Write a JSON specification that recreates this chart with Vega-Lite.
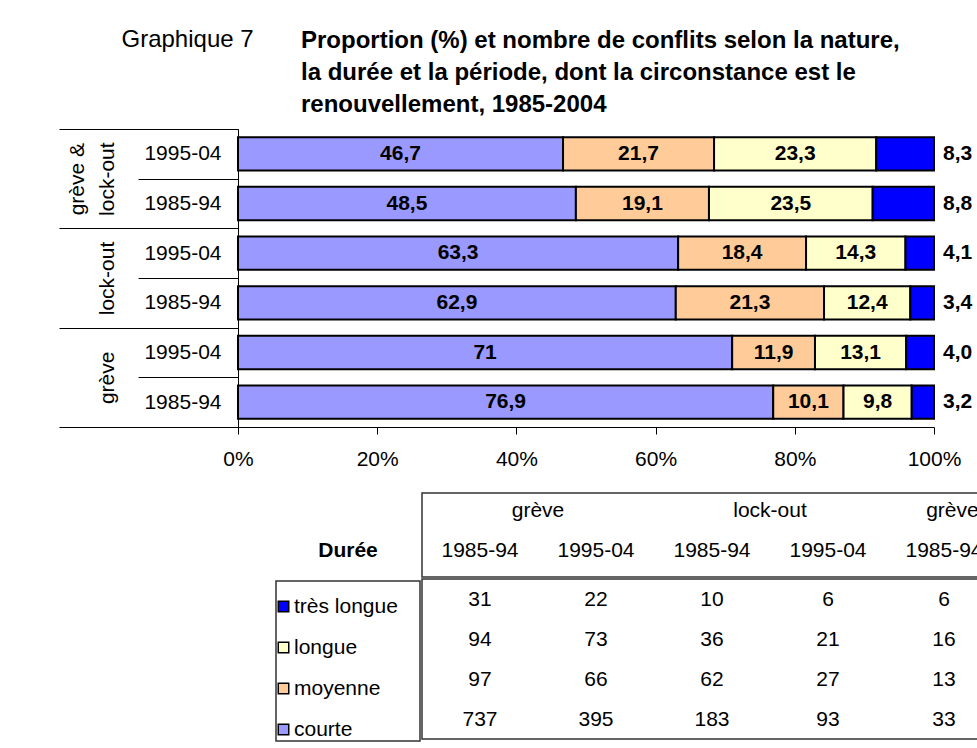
{
  "$schema": "https://vega.github.io/schema/vega-lite/v6.json",
  "padding": {"left": 58, "top": 27, "right": 2, "bottom": 0},
  "datasets": {
    "conflits": [
      {"nature": "grève", "periode": "1985-94", "duree": "courte", "pct": 76.9, "n": 737},
      {"nature": "grève", "periode": "1985-94", "duree": "moyenne", "pct": 10.1, "n": 97},
      {"nature": "grève", "periode": "1985-94", "duree": "longue", "pct": 9.8, "n": 94},
      {"nature": "grève", "periode": "1985-94", "duree": "très longue", "pct": 3.2, "n": 31},
      {"nature": "grève", "periode": "1995-04", "duree": "courte", "pct": 71, "n": 395},
      {"nature": "grève", "periode": "1995-04", "duree": "moyenne", "pct": 11.9, "n": 66},
      {"nature": "grève", "periode": "1995-04", "duree": "longue", "pct": 13.1, "n": 73},
      {"nature": "grève", "periode": "1995-04", "duree": "très longue", "pct": 4.0, "n": 22},
      {"nature": "lock-out", "periode": "1985-94", "duree": "courte", "pct": 62.9, "n": 183},
      {"nature": "lock-out", "periode": "1985-94", "duree": "moyenne", "pct": 21.3, "n": 62},
      {"nature": "lock-out", "periode": "1985-94", "duree": "longue", "pct": 12.4, "n": 36},
      {"nature": "lock-out", "periode": "1985-94", "duree": "très longue", "pct": 3.4, "n": 10},
      {"nature": "lock-out", "periode": "1995-04", "duree": "courte", "pct": 63.3, "n": 93},
      {"nature": "lock-out", "periode": "1995-04", "duree": "moyenne", "pct": 18.4, "n": 27},
      {"nature": "lock-out", "periode": "1995-04", "duree": "longue", "pct": 14.3, "n": 21},
      {"nature": "lock-out", "periode": "1995-04", "duree": "très longue", "pct": 4.1, "n": 6},
      {"nature": "grève & lock-out", "periode": "1985-94", "duree": "courte", "pct": 48.5, "n": 33},
      {"nature": "grève & lock-out", "periode": "1985-94", "duree": "moyenne", "pct": 19.1, "n": 13},
      {"nature": "grève & lock-out", "periode": "1985-94", "duree": "longue", "pct": 23.5, "n": 16},
      {"nature": "grève & lock-out", "periode": "1985-94", "duree": "très longue", "pct": 8.8, "n": 6},
      {"nature": "grève & lock-out", "periode": "1995-04", "duree": "courte", "pct": 46.7, "n": 28},
      {"nature": "grève & lock-out", "periode": "1995-04", "duree": "moyenne", "pct": 21.7, "n": 13},
      {"nature": "grève & lock-out", "periode": "1995-04", "duree": "longue", "pct": 23.3, "n": 14},
      {"nature": "grève & lock-out", "periode": "1995-04", "duree": "très longue", "pct": 8.3, "n": 5}
    ]
  },
  "spacing": 23,
  "resolve": {"scale": {"color": "independent"}, "legend": {"color": "independent"}},
  "vconcat": [
    {
      "width": 696,
      "height": 298,
      "data": {"name": "conflits"},
      "title": {
        "text": ["Proportion (%) et nombre de conflits selon la nature,", "la  durée et la période, dont la circonstance est le", "renouvellement, 1985-2004"],
        "anchor": "start", "frame": "group", "dx": 63, "fontSize": 24, "fontWeight": "bold", "lineHeight": 32, "offset": -90, "color": "black"
      },
      "transform": [
        {"calculate": "datum.nature + ' ' + datum.periode", "as": "key"},
        {"calculate": "indexof(['courte', 'moyenne', 'longue', 'très longue'], datum.duree)", "as": "rang"},
        {"stack": "pct", "groupby": ["key"], "sort": [{"field": "rang", "order": "ascending"}], "offset": "normalize", "as": ["x0", "x1"]},
        {"calculate": "(datum.x0 + datum.x1) / 2", "as": "mid"}
      ],
      "resolve": {"axis": {"y": "independent"}},
      "layer": [
        {
          "mark": {"type": "bar", "stroke": "black", "strokeWidth": 2},
          "encoding": {
            "y": {
              "field": "key", "type": "nominal",
              "sort": ["grève & lock-out 1995-04", "grève & lock-out 1985-94", "lock-out 1995-04", "lock-out 1985-94", "grève 1995-04", "grève 1985-94"],
              "scale": {"paddingInner": 0.33, "paddingOuter": 0.165},
              "axis": {"orient": "left", "title": null, "labelExpr": "slice(datum.value, -7)", "bandPosition": 0, "tickOffset": -8.19, "labelOffset": 8.19, "tickSize": 100, "labelPadding": -83, "labelFontSize": 21, "labelColor": "black", "domainColor": "black", "tickColor": "black", "labelLimit": 0, "labelBound": false, "labelOverlap": false, "grid": false}
            },
            "x": {
              "field": "x0", "type": "quantitative", "title": null,
              "scale": {"domain": [0, 1], "nice": false},
              "axis": {"title": null, "format": "%", "values": [0, 0.2, 0.4, 0.6, 0.8, 1], "grid": false, "labelFontSize": 21, "labelColor": "black", "tickSize": 7, "labelPadding": 14, "domainColor": "black", "tickColor": "black", "labelFlush": false}
            },
            "x2": {"field": "x1"},
            "color": {
              "field": "duree", "type": "nominal",
              "scale": {"domain": ["courte", "moyenne", "longue", "très longue"], "range": ["#9999FF", "#FFCC99", "#FFFFCC", "#0000FF"]},
              "legend": null
            }
          }
        },
        {
          "transform": [{"filter": "datum.duree != 'très longue'"}],
          "mark": {"type": "text", "fontWeight": "bold", "fontSize": 21, "baseline": "middle", "align": "center", "color": "black"},
          "encoding": {
            "y": {"field": "key", "type": "nominal", "sort": ["grève & lock-out 1995-04", "grève & lock-out 1985-94", "lock-out 1995-04", "lock-out 1985-94", "grève 1995-04", "grève 1985-94"], "axis": null},
            "x": {"field": "mid", "type": "quantitative", "title": null},
            "text": {"field": "pct", "type": "quantitative", "format": ".1~f"}
          }
        },
        {
          "transform": [{"filter": "datum.duree == 'très longue'"}],
          "mark": {"type": "text", "fontWeight": "bold", "fontSize": 21, "baseline": "middle", "align": "left", "dx": 9, "color": "black"},
          "encoding": {
            "y": {"field": "key", "type": "nominal", "sort": ["grève & lock-out 1995-04", "grève & lock-out 1985-94", "lock-out 1995-04", "lock-out 1985-94", "grève 1995-04", "grève 1985-94"], "axis": null},
            "x": {"field": "x1", "type": "quantitative", "title": null},
            "text": {"field": "pct", "type": "quantitative", "format": ".1f"}
          }
        },
        {
          "mark": {"type": "text", "text": ""},
          "encoding": {
            "x": {"field": "mid", "type": "quantitative", "title": null},
            "y": {
              "field": "key", "type": "nominal",
              "sort": ["grève & lock-out 1995-04", "grève & lock-out 1985-94", "lock-out 1995-04", "lock-out 1985-94", "grève 1995-04", "grève 1985-94"],
              "axis": {
                "orient": "left", "values": ["grève & lock-out 1995-04", "lock-out 1995-04", "grève 1995-04"],
                "bandPosition": 0, "tickOffset": -8.19, "tickSize": 179, "domain": false, "tickColor": "black", "grid": false,
                "labelExpr": "datum.value == 'grève & lock-out 1995-04' ? ['grève &', 'lock-out'] : ['', split(datum.value, ' ')[0]]",
                "labelAngle": 270, "labelAlign": "center", "labelBaseline": "middle", "labelPadding": -18, "labelOffset": 33.03, "labelLineHeight": 30,
                "labelFontSize": 21, "labelColor": "black", "labelOverlap": false, "labelBound": false, "labelFlush": false, "labelLimit": 0,
                "title": "Graphique 7", "titleAngle": 0, "titleX": -117, "titleY": -83, "titleAlign": "left", "titleBaseline": "alphabetic", "titleFontSize": 24, "titleFontWeight": "normal", "titleColor": "black"
              }
            }
          }
        },
        {
          "mark": {"type": "text", "text": ""},
          "encoding": {
            "x": {"field": "mid", "type": "quantitative", "title": null},
            "y": {
              "field": "key", "type": "nominal",
              "sort": ["grève & lock-out 1995-04", "grève & lock-out 1985-94", "lock-out 1995-04", "lock-out 1985-94", "grève 1995-04", "grève 1985-94"],
              "axis": {"orient": "left", "values": ["grève 1985-94"], "bandPosition": 1, "tickOffset": 8.19, "tickSize": 179, "domain": false, "labels": false, "tickColor": "black", "title": null, "grid": false}
            }
          }
        }
      ]
    },
    {
      "spacing": 0,
      "resolve": {"scale": {"color": "independent"}, "legend": {"color": "independent"}},
      "hconcat": [
        {
          "width": 33.5,
          "height": 1,
          "data": {"values": []},
          "mark": {"type": "text", "text": ""},
          "encoding": {
            "x": {"field": "v", "type": "nominal", "axis": null},
            "y": {"field": "v", "type": "nominal", "axis": null}
          }
        },
        {
          "spacing": 0,
          "resolve": {"scale": {"color": "independent"}, "legend": {"color": "independent"}},
          "vconcat": [
            {
              "width": 144,
              "height": 84,
              "data": {"values": [{"entete": "Durée"}]},
              "mark": {"type": "text", "fontWeight": "bold", "fontSize": 21, "dy": 16, "color": "black"},
              "encoding": {
                "x": {"field": "entete", "type": "nominal", "scale": {"paddingInner": 0, "paddingOuter": 0}, "axis": null},
                "text": {"field": "entete"}
              }
            },
            {
              "width": 144,
              "height": 160,
              "view": {"stroke": "#333333", "strokeWidth": 1.5},
              "data": {"name": "conflits"},
              "mark": {"type": "text", "text": ""},
              "encoding": {
                "x": {"field": "duree", "type": "nominal", "axis": null},
                "y": {"field": "duree", "type": "nominal", "axis": null},
                "color": {
                  "field": "duree", "type": "nominal",
                  "scale": {"domain": ["très longue", "longue", "moyenne", "courte"], "range": ["#0000FF", "#FFFFCC", "#FFCC99", "#9999FF"]},
                  "legend": {
                    "orient": "top-left", "offset": -3, "padding": 0,
                    "title": " ", "titleFontSize": 8, "titlePadding": 10,
                    "symbolType": "square", "symbolSize": 110, "symbolStrokeColor": "black", "symbolStrokeWidth": 1.5, "symbolOpacity": 1,
                    "labelFontSize": 21, "labelColor": "black", "labelOffset": 0, "rowPadding": 19, "labelLimit": 0
                  }
                }
              }
            }
          ]
        },
        {
          "spacing": 0,
          "vconcat": [
            {
              "width": 696,
              "height": 84,
              "view": {"stroke": "#333333", "strokeWidth": 1.5},
              "data": {"name": "conflits"},
              "transform": [
                {"filter": "datum.duree == 'courte'"},
                {"calculate": "datum.nature + ' ' + datum.periode", "as": "col"}
              ],
              "layer": [
                {
                  "transform": [{"filter": "datum.periode == '1985-94'"}],
                  "mark": {"type": "text", "fontSize": 21, "dy": -24, "dx": 58, "color": "black"},
                  "encoding": {
                    "x": {"field": "col", "type": "nominal", "sort": ["grève 1985-94", "grève 1995-04", "lock-out 1985-94", "lock-out 1995-04", "grève & lock-out 1985-94", "grève & lock-out 1995-04"], "scale": {"paddingInner": 0, "paddingOuter": 0}, "axis": null},
                    "text": {"field": "nature"}
                  }
                },
                {
                  "mark": {"type": "text", "fontSize": 21, "dy": 16, "color": "black"},
                  "encoding": {
                    "x": {"field": "col", "type": "nominal", "sort": ["grève 1985-94", "grève 1995-04", "lock-out 1985-94", "lock-out 1995-04", "grève & lock-out 1985-94", "grève & lock-out 1995-04"], "scale": {"paddingInner": 0, "paddingOuter": 0}, "axis": null},
                    "text": {"field": "periode"}
                  }
                }
              ]
            },
            {
              "width": 696,
              "height": 160,
              "view": {"stroke": "#333333", "strokeWidth": 1.5},
              "data": {"name": "conflits"},
              "transform": [{"calculate": "datum.nature + ' ' + datum.periode", "as": "col"}],
              "mark": {"type": "text", "fontSize": 21, "dy": 1, "color": "black"},
              "encoding": {
                "x": {"field": "col", "type": "nominal", "sort": ["grève 1985-94", "grève 1995-04", "lock-out 1985-94", "lock-out 1995-04", "grève & lock-out 1985-94", "grève & lock-out 1995-04"], "scale": {"paddingInner": 0, "paddingOuter": 0}, "axis": null},
                "y": {"field": "duree", "type": "nominal", "sort": ["très longue", "longue", "moyenne", "courte"], "scale": {"paddingInner": 0, "paddingOuter": 0}, "axis": null},
                "text": {"field": "n", "type": "quantitative"}
              }
            }
          ]
        }
      ]
    }
  ],
  "config": {
    "view": {"stroke": null},
    "font": "Liberation Sans",
    "text": {"color": "black"},
    "title": {"color": "black"},
    "axis": {"labelFont": "Liberation Sans"},
    "legend": {"labelFont": "Liberation Sans"},
    "locale": {
      "number": {"decimal": ",", "thousands": "\u00a0", "grouping": [3], "currency": ["", "\u00a0€"]}
    }
  }
}
